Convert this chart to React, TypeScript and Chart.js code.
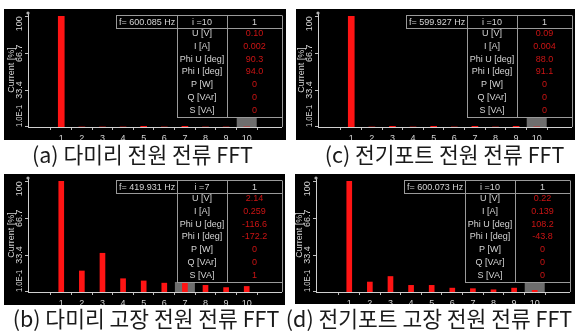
import React, { useEffect, useRef } from 'react';
import { Chart, registerables } from 'chart.js';

Chart.register(...registerables);

// ---------- data ----------
const HARMONICS = [1, 2, 3, 4, 5, 6, 7, 8, 9, 10];
const X_TICK_LABELS = ['1', '2', '3', '4', '5', '6', '7', '8', '9', '10'];
const Y_TICKS = [0.1, 33.4, 66.7, 100];
const Y_TICK_LABELS = ['1.0E-1', '33.4', '66.7', '100'];
const Y_AXIS_TITLE = 'Current [%]';
const ROW_LABELS = ['U [V]', 'I [A]', 'Phi U [deg]', 'Phi I [deg]', 'P [W]', 'Q [VAr]', 'S [VA]'];
const HEADER_RIGHT = '1';

const A_CURRENT = [100, 0, 0, 0, 0.6, 0, 0.6, 0, 0, 0];
const A_FREQ = 'f= 600.085 Hz';
const A_INDEX = 'i =10';
const A_CURSOR = 10;
const A_ROW_VALUES = ['0.10', '0.002', '90.3', '94.0', '0', '0', '0'];

const B_CURRENT = [100, 19, 35, 12, 10, 8, 8, 6, 4, 5];
const B_FREQ = 'f= 419.931 Hz';
const B_INDEX = 'i =7';
const B_CURSOR = 7;
const B_ROW_VALUES = ['2.14', '0.259', '-116.6', '-172.2', '0', '0', '1'];

const C_CURRENT = [100, 0, 0.6, 0, 0.6, 0, 0.6, 0, 0.6, 0];
const C_FREQ = 'f= 599.927 Hz';
const C_INDEX = 'i =10';
const C_CURSOR = 10;
const C_ROW_VALUES = ['0.09', '0.004', '88.0', '91.1', '0', '0', '0'];

const D_CURRENT = [100, 9, 14, 6, 6, 3.5, 3, 2, 3.5, 1.5];
const D_FREQ = 'f= 600.073 Hz';
const D_INDEX = 'i =10';
const D_CURSOR = 10;
const D_ROW_VALUES = ['0.22', '0.139', '108.2', '-43.8', '0', '0', '0'];

const CAPTION_A = '(a) 다미리 전원 전류 FFT';
const CAPTION_C = '(c) 전기포트 전원 전류 FFT';
const CAPTION_B = '(b) 다미리 고장 전원 전류 FFT';
const CAPTION_D = '(d) 전기포트 고장 전원 전류 FFT';

// ---------- styling constants ----------
const FONT = '"Liberation Sans", Arial, sans-serif';
const TEXT_GRAY = '#d4d4d4';
const VALUE_RED = '#cc1414';
const LINE_GRAY = '#9a9a9a';
const BAR_RED = '#ff1414';
const CW = 282;
const CH = 131;

type PanelProps = {
  values: number[];
  freq: string;
  index: string;
  cursor: number;
  rowValues: string[];
  barWidth: number;
};

function makeOverlay(p: PanelProps) {
  return {
    id: 'fftOverlay',
    beforeDraw(chart: any) {
      const ctx = chart.ctx;
      ctx.save();
      ctx.fillStyle = '#000';
      ctx.fillRect(0, 0, chart.width, chart.height);
      ctx.restore();
    },
    beforeDatasetsDraw(chart: any) {
      const ctx = chart.ctx;
      const xs = chart.scales.x;
      const area = chart.chartArea;
      const cx = xs.getPixelForValue(p.cursor);
      ctx.save();
      ctx.fillStyle = '#6e6e6e';
      ctx.fillRect(cx - 10, 108, 20, area.bottom - 108);
      ctx.restore();
    },
    afterDraw(chart: any) {
      const ctx = chart.ctx;
      const ys = chart.scales.y;
      const area = chart.chartArea;
      ctx.save();
      // y tick labels (rotated)
      ctx.font = `9px ${FONT}`;
      ctx.fillStyle = TEXT_GRAY;
      ctx.textBaseline = 'middle';
      Y_TICKS.forEach((v, i) => {
        const py = ys.getPixelForValue(v);
        ctx.save();
        ctx.translate(16, py);
        ctx.rotate(-Math.PI / 2);
        ctx.textAlign = i === 0 ? 'left' : i === Y_TICKS.length - 1 ? 'right' : 'center';
        if (i === 0) ctx.fillText(Y_TICK_LABELS[i], 0, 0, 22);
        else ctx.fillText(Y_TICK_LABELS[i], 0, 0);
        ctx.restore();
      });
      // small marker on top of y axis
      ctx.fillStyle = '#b0b0b0';
      ctx.beginPath();
      ctx.arc(area.left, area.top, 1.6, 0, Math.PI * 2);
      ctx.fill();

      // table
      const fL = 112, c1 = 173, c2 = 223, R = 278;
      const top = 6.5, hdrB = 19.5, tblB = 108;
      ctx.fillStyle = '#000';
      ctx.fillRect(fL, top, R - fL, hdrB - top);
      ctx.fillRect(c1, top, R - c1, tblB - top);
      ctx.strokeStyle = LINE_GRAY;
      ctx.lineWidth = 1;
      ctx.beginPath();
      ctx.moveTo(fL + 0.5, top);
      ctx.lineTo(fL + 0.5, hdrB);
      ctx.moveTo(fL, top);
      ctx.lineTo(R, top);
      ctx.moveTo(fL, hdrB);
      ctx.lineTo(R, hdrB);
      ctx.moveTo(c1 + 0.5, top);
      ctx.lineTo(c1 + 0.5, tblB);
      ctx.moveTo(c2 + 0.5, top);
      ctx.lineTo(c2 + 0.5, tblB);
      ctx.moveTo(R + 0.5, top);
      ctx.lineTo(R + 0.5, area.bottom);
      ctx.moveTo(c1, tblB + 0.5);
      ctx.lineTo(R, tblB + 0.5);
      ctx.stroke();

      ctx.font = `9px ${FONT}`;
      ctx.textBaseline = 'middle';
      ctx.fillStyle = TEXT_GRAY;
      ctx.textAlign = 'left';
      ctx.fillText(p.freq, fL + 3, 13.2);
      ctx.textAlign = 'center';
      ctx.fillText(p.index, (c1 + c2) / 2, 13.2);
      ctx.fillText(HEADER_RIGHT, (c2 + R) / 2, 13.2);
      ROW_LABELS.forEach((lab, k) => {
        const y = 24.6 + 12.75 * k;
        ctx.fillStyle = TEXT_GRAY;
        ctx.fillText(lab, (c1 + c2) / 2, y);
        ctx.fillStyle = VALUE_RED;
        ctx.fillText(p.rowValues[k], (c2 + R) / 2, y);
      });
      ctx.restore();
    },
  };
}

function FftPanel(p: PanelProps) {
  const ref = useRef<HTMLCanvasElement | null>(null);
  useEffect(() => {
    if (!ref.current) return;
    const chart = new Chart(ref.current, {
      type: 'bar',
      data: {
        datasets: [
          {
            data: HARMONICS.map((h, i) => ({ x: h, y: p.values[i] })),
            backgroundColor: BAR_RED,
            barThickness: p.barWidth,
          },
        ],
      },
      options: {
        responsive: false,
        animation: false,
        layout: { padding: { left: 0, top: 4, right: CW - 277, bottom: 0 }, autoPadding: false },
        plugins: { legend: { display: false }, tooltip: { enabled: false } },
        scales: {
          x: {
            type: 'linear',
            min: 0,
            max: 11.05,
            afterBuildTicks: (s: any) => {
              s.ticks = HARMONICS.map((v) => ({ value: v }));
            },
            afterFit: (s: any) => {
              s.height = 13;
            },
            ticks: {
              autoSkip: false,
              maxRotation: 0,
              padding: 3,
              color: TEXT_GRAY,
              font: { family: FONT, size: 9 },
              callback: (_v: any, i: number) => X_TICK_LABELS[i],
            },
            grid: { drawOnChartArea: false, drawTicks: true, tickLength: 3, color: '#bdbdbd' },
            border: { display: true, color: '#d0d0d0' },
          },
          y: {
            type: 'linear',
            min: 0,
            max: 103,
            afterBuildTicks: (s: any) => {
              s.ticks = Y_TICKS.map((v) => ({ value: v }));
            },
            afterFit: (s: any) => {
              s.width = 24;
            },
            ticks: { display: false },
            title: {
              display: true,
              text: Y_AXIS_TITLE,
              color: TEXT_GRAY,
              font: { family: FONT, size: 9 },
              padding: { top: 2, bottom: 0 },
            },
            grid: { drawOnChartArea: false, drawTicks: true, tickLength: 3, color: '#bdbdbd' },
            border: { display: true, color: '#d0d0d0' },
          },
        },
      },
      plugins: [makeOverlay(p)],
    } as any);
    return () => chart.destroy();
  }, []);
  return <canvas ref={ref} width={CW} height={CH} style={{ display: 'block', width: CW, height: CH }} />;
}

function Box(props: { left: number; top: number; width: number; height: number; shift: number; children: any }) {
  return (
    <div
      style={{
        position: 'absolute',
        left: props.left,
        top: props.top,
        width: props.width,
        height: props.height,
        overflow: 'hidden',
        background: '#000',
      }}
    >
      <div style={{ position: 'absolute', left: -props.shift, top: 0 }}>{props.children}</div>
    </div>
  );
}

const captionStyle: any = {
  position: 'absolute',
  fontFamily: '"Noto Sans CJK KR", sans-serif',
  fontSize: 21.5,
  lineHeight: '22px',
  color: '#1a1a1a',
  whiteSpace: 'nowrap',
  textAlign: 'center',
  width: 400,
};

export default function App() {
  return (
    <div
      style={{
        position: 'absolute',
        left: 0,
        top: 0,
        width: 575,
        height: 333,
        overflow: 'hidden',
        background: '#fff',
      }}
    >
      <Box left={4} top={9} width={282} height={131} shift={0}>
        <FftPanel values={A_CURRENT} freq={A_FREQ} index={A_INDEX} cursor={A_CURSOR} rowValues={A_ROW_VALUES} barWidth={6} />
      </Box>
      <Box left={296} top={9} width={279} height={131} shift={2}>
        <FftPanel values={C_CURRENT} freq={C_FREQ} index={C_INDEX} cursor={C_CURSOR} rowValues={C_ROW_VALUES} barWidth={6} />
      </Box>
      <Box left={4} top={174} width={281} height={131} shift={0}>
        <FftPanel values={B_CURRENT} freq={B_FREQ} index={B_INDEX} cursor={B_CURSOR} rowValues={B_ROW_VALUES} barWidth={5} />
      </Box>
      <Box left={295} top={174} width={280} height={130} shift={3}>
        <FftPanel values={D_CURRENT} freq={D_FREQ} index={D_INDEX} cursor={D_CURSOR} rowValues={D_ROW_VALUES} barWidth={5} />
      </Box>
      <div style={{ ...captionStyle, left: 142.5 - 200, top: 143 }}>{CAPTION_A}</div>
      <div style={{ ...captionStyle, left: 444.5 - 200, top: 143 }}>{CAPTION_C}</div>
      <div style={{ ...captionStyle, left: 146 - 200, top: 307 }}>{CAPTION_B}</div>
      <div style={{ ...captionStyle, left: 429 - 200, top: 307 }}>{CAPTION_D}</div>
    </div>
  );
}
